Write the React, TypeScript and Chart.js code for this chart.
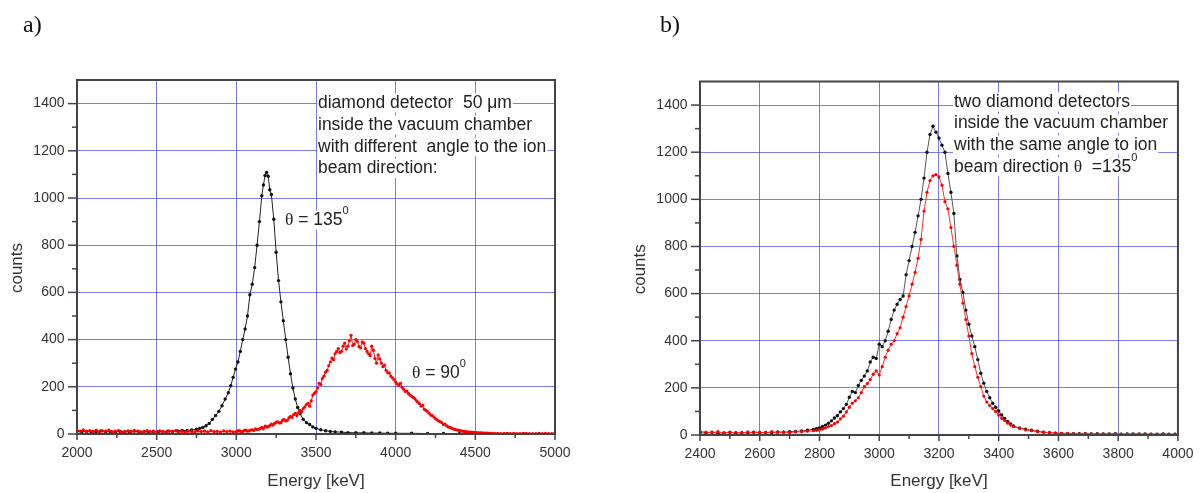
import React, { useEffect, useRef } from 'react';
import { Chart, registerables } from 'chart.js';
Chart.register(...registerables);

// ---------- Panel a data ----------
const aBlackEnergy = [2000,2030,2060,2090,2120,2150,2180,2210,2240,2270,2300,2330,2360,2390,2420,2450,2480,2510,2540,2570,2600,2630,2660,2690,2720,2750,2770,2790,2810,2830,2850,2870,2890,2910,2930,2950,2965,2980,2995,3010,3025,3040,3055,3070,3085,3100,3115,3130,3145,3160,3170,3180,3190,3200,3210,3220,3235,3250,3265,3280,3295,3310,3325,3340,3355,3370,3385,3400,3420,3440,3460,3480,3500,3530,3560,3590,3620,3660,3700,3750,3800,3850,3900,3950,4000,4100,4200,4300,4400,4500,4600,4700,4800,4900,5000];
const aBlackCounts = [12,9,11,8,10,13,9,10,8,11,9,10,12,9,10,8,11,10,9,12,11,13,15,14,17,20,24,28,35,45,62,78,96,120,148,175,205,240,275,305,350,400,445,500,590,635,705,800,900,1010,1055,1095,1108,1092,1035,1015,910,770,650,560,480,400,325,255,195,148,112,86,62,48,40,30,24,18,14,11,9,8,6,5,5,4,4,3,3,3,2,2,2,2,2,2,2,2,2];

const aRedEnergy = [
2000,2020,2040,2060,2080,2100,2120,2140,2160,2180,2200,2220,2240,2260,2280,2300,2320,2340,2360,2380,2400,2420,2440,2460,2480,2500,2520,2540,2560,2580,2600,2620,2640,2660,2680,2700,2720,2740,2760,2780,2800,2820,2840,2860,2880,2900,2920,2940,2960,2980,
3000,3010,3020,3030,3040,3050,3060,3070,3080,3090,
3100,3110,3120,3130,3140,3150,3160,3170,3180,3190,
3200,3210,3220,3230,3240,3250,3260,3270,3280,3290,
3300,3310,3320,3330,3340,3350,3360,3370,3380,3390,
3400,3410,3420,3430,3440,3450,3460,3470,3480,3490,
3500,3510,3520,3530,3540,3550,3560,3570,3580,3590,
3600,3610,3620,3630,3640,3650,3660,3670,3680,3690,
3700,3710,3720,3730,3740,3750,3760,3770,3780,3790,
3800,3810,3820,3830,3840,3850,3860,3870,3880,3890,
3900,3910,3920,3930,3940,3950,3960,3970,3980,3990,
4000,4010,4020,4030,4040,4050,4060,4070,4080,4090,
4100,4110,4120,4130,4140,4150,4160,4170,4180,4190,
4200,4210,4220,4230,4240,4250,4260,4270,4280,4290,
4300,4310,4320,4330,4340,4350,4360,4370,4380,4390,
4400,4410,4420,4430,4440,4450,4460,4470,4480,4490,
4500,4510,4520,4530,4540,4550,4560,4570,4580,4590,
4600,
4620,4640,4660,4680,4700,4720,4740,4760,4780,4800,4820,4840,4860,4880,4900,4920,4940,4960,4980,5000];
const aRedCounts = [
15,12,18,10,14,11,16,9,13,12,17,10,12,14,9,11,13,10,15,12,9,11,14,10,12,8,13,11,9,12,10,14,9,11,8,12,10,9,13,11,12,9,14,10,11,8,13,10,12,9,
10,13,14,9,11,15,16,12,13,17,
18,15,22,19,20,24,28,22,33,30,
30,36,42,38,45,50,52,47,48,58,
62,55,58,68,75,70,82,88,78,90,
100,95,108,115,125,130,118,140,165,172,
180,195,215,210,235,245,262,270,290,305,
322,315,340,350,362,345,350,372,385,360,
372,395,418,375,380,400,392,370,365,390,
385,362,350,340,332,372,355,320,300,335,
318,300,285,292,270,260,258,245,238,230,
220,212,205,215,198,190,180,182,172,165,
160,155,150,142,135,128,118,122,105,100,
95,88,80,78,72,65,60,55,52,48,
40,42,35,30,28,25,22,20,18,16,
15,13,12,11,10,9,8,8,7,7,
6,6,5,5,5,4,4,4,4,3,
3,
3,3,2,3,2,2,3,2,2,2,3,2,2,2,2,2,3,2,2,2];

// ---------- Panel b data ----------
const bEnergy = [2400,2420,2440,2460,2480,2500,2520,2540,2560,2580,2600,2620,2640,2660,2680,2700,2720,2740,2760,
2780,2790,2800,2810,2820,2830,2840,2850,2860,2870,2880,2890,2900,2910,2920,2930,2940,2950,2960,2970,2980,2990,3000,3010,3020,3030,3040,3050,3060,3070,3080,3090,3100,3110,3120,3130,3140,3150,3160,3170,3180,3190,3200,3210,3220,3230,3240,3250,3260,3270,3280,3290,3300,3310,3320,3330,3340,3350,3360,3370,3380,3390,3400,3410,3420,3430,3440,3450,
3470,3490,3510,3530,3550,3570,3590,3610,3630,3650,3670,3690,3710,3730,3750,3770,3790,3810,3830,3850,3870,3890,3910,3930,3950,3970,3990];
const bBlackCounts = [10,8,12,7,9,11,8,10,9,12,10,11,9,13,12,14,15,17,20,
24,27,30,36,42,50,60,72,82,98,112,130,160,185,180,210,232,250,272,310,330,325,385,375,400,440,490,530,555,575,590,680,740,800,860,930,1000,1090,1200,1275,1310,1285,1260,1230,1200,1110,1030,940,760,660,605,530,470,420,375,320,262,220,185,158,135,118,102,85,70,58,47,38,
30,25,20,16,12,10,8,7,6,6,5,5,4,5,4,4,5,3,4,4,3,4,3,3,4,3,3];
const bRedCounts = [15,12,10,14,9,12,11,8,13,10,12,9,14,11,12,10,13,14,16,
18,20,22,25,30,36,40,48,55,68,80,98,118,135,145,158,180,205,218,235,258,272,255,290,330,360,385,400,430,455,500,545,590,640,690,750,830,950,1030,1080,1100,1105,1095,1060,990,960,880,800,720,640,560,490,420,345,290,245,205,165,140,125,112,100,85,70,62,50,42,35,
28,22,18,14,12,10,8,7,7,6,5,6,5,4,5,4,5,4,3,4,5,3,4,3,4,3,4];

// ---------- axes ----------
const aXMinorTicks = [2250,2750,3250,3750,4250,4750];
const bXMinorTicks = [2500,2700,2900,3100,3300,3500,3700,3900];
const yMajorTicks = [0,200,400,600,800,1000,1200,1400];
const yMinorTicks = [100,300,500,700,900,1100,1300];

const SANS = "'Liberation Sans', Arial, sans-serif";
const SERIF = "'Liberation Serif', 'Times New Roman', serif";
const TXT = '#333333';
const GRID = 'rgba(70,70,235,0.72)';

const toXY = (xs: number[], ys: number[]) => xs.map((x, i) => ({ x, y: ys[i] }));

type Run = { t: string; font: string; dy?: number };
type Line = { x: number; y: number; runs: Run[] };

const F = `17.5px ${SANS}`;
const FT = `17.5px ${SERIF}`;
const FS = `11px ${SANS}`;

const aNotes: Line[] = [
  { x: 318, y: 103, runs: [{ t: 'diamond detector  50 μm', font: F }] },
  { x: 318, y: 125, runs: [{ t: 'inside the vacuum chamber', font: F }] },
  { x: 318, y: 147, runs: [{ t: 'with different  angle to the ion', font: F }] },
  { x: 318, y: 168.5, runs: [{ t: 'beam direction:', font: F }] },
  { x: 285, y: 220, runs: [{ t: 'θ', font: FT }, { t: ' = 135', font: F }, { t: '0', font: FS, dy: -9 }] },
  { x: 412, y: 373, runs: [{ t: 'θ', font: FT }, { t: ' = 90', font: F }, { t: '0', font: FS, dy: -9 }] },
];
const bNotes: Line[] = [
  { x: 354, y: 102, runs: [{ t: 'two diamond detectors', font: F }] },
  { x: 354, y: 123.5, runs: [{ t: 'inside the vacuum chamber', font: F }] },
  { x: 354, y: 145, runs: [{ t: 'with the same angle to ion', font: F }] },
  { x: 354, y: 167, runs: [{ t: 'beam direction ', font: F }, { t: 'θ', font: FT }, { t: '  =135', font: F }, { t: '0', font: FS, dy: -9 }] },
];

const framePlugin = {
  id: 'frame',
  afterDatasetsDraw(chart: any, _args: any, opts: any) {
    const { ctx, chartArea } = chart;
    const { left, right, top, bottom } = chartArea;
    const xs = chart.scales.x;
    const ys = chart.scales.y;
    ctx.save();
    ctx.strokeStyle = '#444';
    ctx.lineWidth = 1.5;
    const seg = (x1: number, y1: number, x2: number, y2: number) => {
      ctx.beginPath(); ctx.moveTo(x1, y1); ctx.lineTo(x2, y2); ctx.stroke();
    };
    for (const v of opts.xMajor) { const p = xs.getPixelForValue(v); seg(p, bottom, p, bottom + 6); }
    for (const v of opts.xMinor) { const p = xs.getPixelForValue(v); seg(p, bottom, p, bottom + 4); }
    for (const v of yMajorTicks) { const p = ys.getPixelForValue(v); seg(left - 9, p, left, p); }
    for (const v of yMinorTicks) { const p = ys.getPixelForValue(v); seg(left - 5, p, left, p); }
    ctx.lineWidth = 2;
    ctx.strokeRect(left, top, right - left, bottom - top);
    ctx.restore();
  },
  afterDraw(chart: any, _args: any, opts: any) {
    const { ctx, chartArea } = chart;
    ctx.save();
    ctx.translate(opts.yTitleX, (chartArea.top + chartArea.bottom) / 2 + 11);
    ctx.rotate(-Math.PI / 2);
    ctx.font = `17px ${SANS}`;
    ctx.fillStyle = TXT;
    ctx.textAlign = 'center';
    ctx.textBaseline = 'middle';
    ctx.fillText('counts', 0, 0);
    ctx.restore();
    ctx.save();
    ctx.textBaseline = 'middle';
    ctx.textAlign = 'left';
    for (const ln of opts.notes as Line[]) {
      let w = 0;
      for (const r of ln.runs) { ctx.font = r.font; w += ctx.measureText(r.t).width; }
      ctx.fillStyle = '#ffffff';
      ctx.fillRect(ln.x - 1, ln.y - 9.5, w + 2, 19);
      let x = ln.x;
      ctx.fillStyle = '#222222';
      for (const r of ln.runs) {
        ctx.font = r.font;
        ctx.fillText(r.t, x, ln.y + (r.dy || 0));
        x += ctx.measureText(r.t).width;
      }
    }
    ctx.restore();
  },
};

type Spec = {
  width: number;
  datasets: any[];
  xMin: number; xMax: number; xStep: number;
  xMajor: number[]; xMinor: number[];
  yAxisWidth: number; xAxisHeight: number;
  padTop: number; padRight: number;
  yTitleX: number;
  notes: Line[];
};

function Panel({ spec }: { spec: Spec }) {
  const ref = useRef<HTMLCanvasElement>(null);
  useEffect(() => {
    if (!ref.current) return;
    const chart = new Chart(ref.current, {
      type: 'line',
      data: { datasets: spec.datasets },
      plugins: [framePlugin as any],
      options: {
        animation: false,
        responsive: false,
        devicePixelRatio: 1,
        layout: { padding: { top: spec.padTop, right: spec.padRight, left: 0, bottom: 0 } },
        plugins: {
          legend: { display: false },
          tooltip: { enabled: false },
          frame: { xMajor: spec.xMajor, xMinor: spec.xMinor, yTitleX: spec.yTitleX, notes: spec.notes },
        } as any,
        scales: {
          x: {
            type: 'linear',
            min: spec.xMin,
            max: spec.xMax,
            ticks: {
              stepSize: spec.xStep,
              includeBounds: false,
              maxRotation: 0,
              autoSkip: false,
              padding: 10.5,
              color: TXT,
              font: { family: SANS, size: 14 },
              callback: (v: any) => String(v),
            },
            grid: { color: GRID, lineWidth: 1, drawTicks: false },
            border: { display: false },
            title: {
              display: true,
              text: 'Energy [keV]',
              color: TXT,
              font: { family: SANS, size: 17 },
              padding: { top: 0, bottom: 1.3 },
            },
            afterFit: (s: any) => { s.height = spec.xAxisHeight; },
          },
          y: {
            type: 'linear',
            min: 0,
            max: 1500,
            ticks: {
              stepSize: 200,
              includeBounds: false,
              padding: 12.5,
              color: TXT,
              font: { family: SANS, size: 14 },
              callback: (v: any) => String(v),
            },
            grid: { color: GRID, lineWidth: 1, drawTicks: false },
            border: { display: false },
            afterFit: (s: any) => { s.width = spec.yAxisWidth; },
          },
        },
      } as any,
    });
    return () => chart.destroy();
  }, [spec]);
  return <canvas ref={ref} width={spec.width} height={493} style={{ width: spec.width, height: 493, display: 'block' }} />;
}

const specA: Spec = {
  width: 600,
  datasets: [
    { data: toXY(aRedEnergy, aRedCounts), borderColor: '#ff1a1a', borderWidth: 1, pointRadius: 1.6, pointBorderWidth: 0, pointBackgroundColor: '#ff0000', showLine: true, tension: 0 },
    { data: toXY(aBlackEnergy, aBlackCounts), borderColor: '#222222', borderWidth: 1, pointRadius: 1.7, pointBorderWidth: 0, pointBackgroundColor: '#111111', showLine: true, tension: 0 },
  ],
  xMin: 2000, xMax: 5000, xStep: 500,
  xMajor: [2000, 2500, 3000, 3500, 4000, 4500, 5000], xMinor: aXMinorTicks,
  yAxisWidth: 77, xAxisHeight: 59,
  padTop: 80, padRight: 45,
  yTitleX: 17.5,
  notes: aNotes,
};

const specB: Spec = {
  width: 604,
  datasets: [
    { data: toXY(bEnergy, bRedCounts), borderColor: '#ff3030', borderWidth: 1, pointRadius: 1.6, pointBorderWidth: 0, pointBackgroundColor: '#ff0000', showLine: true, tension: 0 },
    { data: toXY(bEnergy, bBlackCounts), borderColor: '#555555', borderWidth: 1, pointRadius: 1.7, pointBorderWidth: 0, pointBackgroundColor: '#111111', showLine: true, tension: 0 },
  ],
  xMin: 2400, xMax: 4000, xStep: 200,
  xMajor: [2400, 2600, 2800, 3000, 3200, 3400, 3600, 3800, 4000], xMinor: bXMinorTicks,
  yAxisWidth: 100, xAxisHeight: 58,
  padTop: 81.5, padRight: 24,
  yTitleX: 40,
  notes: bNotes,
};

export default function App() {
  const label: React.CSSProperties = { position: 'absolute', top: 12, fontFamily: SERIF, fontSize: 24, lineHeight: '24px', color: '#111' };
  return (
    <div style={{ position: 'absolute', left: 0, top: 0, width: 1204, height: 493, background: '#fff', overflow: 'hidden' }}>
      <div style={{ position: 'absolute', left: 0, top: 0 }}><Panel spec={specA} /></div>
      <div style={{ position: 'absolute', left: 600, top: 0 }}><Panel spec={specB} /></div>
      <div style={{ ...label, left: 23 }}>a)</div>
      <div style={{ ...label, left: 660 }}>b)</div>
    </div>
  );
}
